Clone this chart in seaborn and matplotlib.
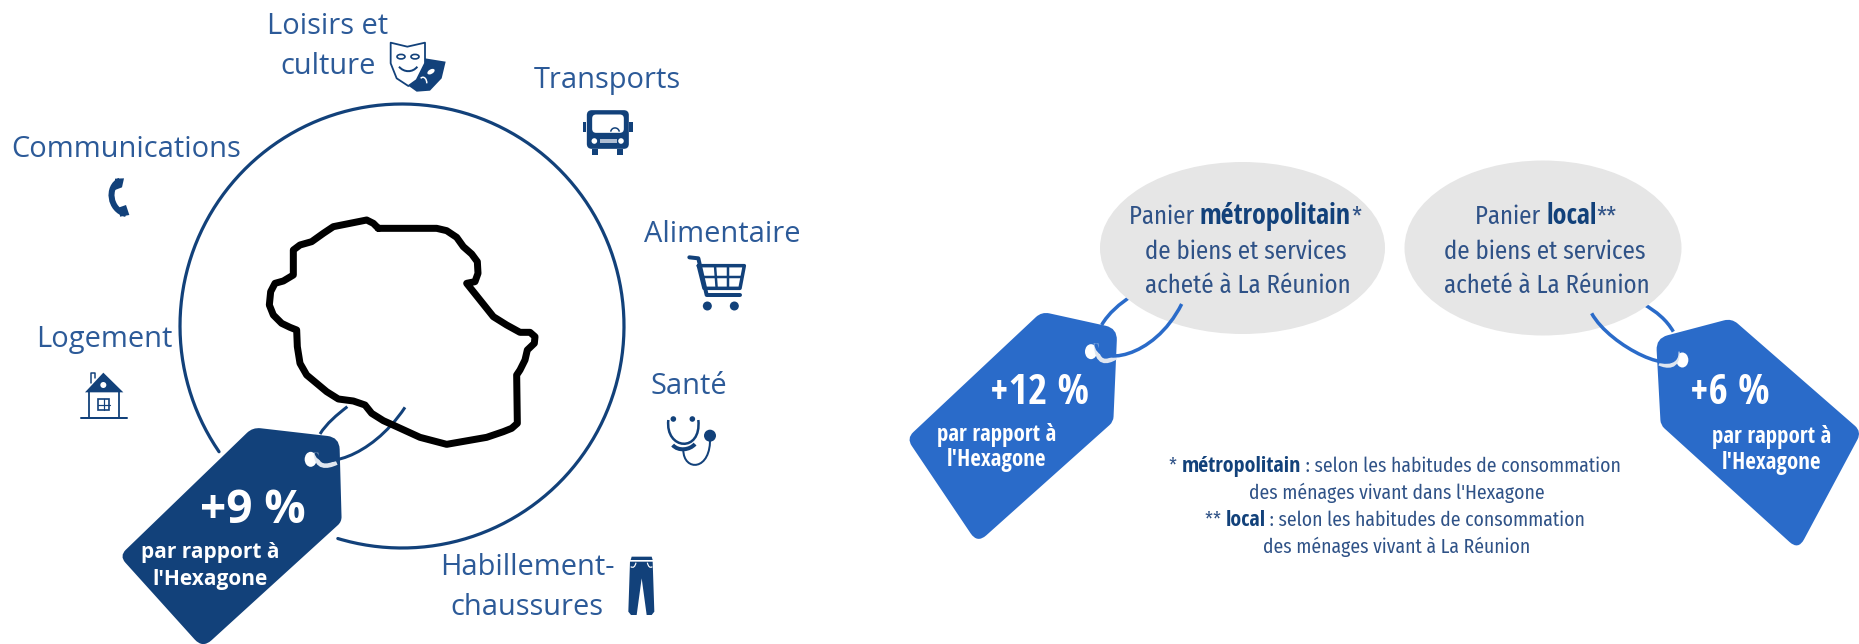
import numpy as np
import pandas as pd
import seaborn as sns
import matplotlib.pyplot as plt
from matplotlib import font_manager
from matplotlib.path import Path
from matplotlib.patches import PathPatch, Ellipse, Circle, Polygon, Rectangle, FancyBboxPatch

# Data
categories = ["Loisirs et\nculture", "Transports", "Alimentaire", "Santé",
              "Habillement-\nchaussures", "Logement", "Communications"]
tag_values = [9, 12, 6]
tag_caption = ["par rapport à", "l'Hexagone"]
bubble_lines = ["de biens et services", "acheté à La Réunion"]

island_x = [415, 590, 620, 650, 670, 695, 712, 714, 705, 680, 720, 760, 800, 840, 870, 885, 883, 862, 855,
            840, 830, 832, 815, 790, 740, 620, 540, 470, 430, 395, 375, 340, 295, 260, 230, 200, 180, 172,
            170, 150, 125, 100, 88, 92, 105, 130, 160, 160, 180, 215, 250, 280, 330, 380, 400, 415]
island_y = [85, 85, 92, 112, 140, 162, 185, 220, 245, 250, 300, 350, 375, 397, 397, 410, 430, 450, 480,
            510, 525, 670, 685, 695, 712, 733, 712, 680, 662, 640, 615, 603, 597, 575, 550, 525, 490, 440,
            390, 382, 370, 345, 315, 275, 250, 243, 225, 150, 135, 125, 100, 80, 70, 60, 70, 85]

DARK = "#12417a"
BLUE = "#2a6bc9"
LABEL = "#2c5a98"
TXT2 = "#2f5287"
GREY = "#e6e6e6"

sns.set_theme(style="white")
available = {f.name for f in font_manager.fontManager.ttflist}
NARROW_REG = next((n for n in ["Noto Sans Condensed", "Fira Sans Condensed", "Encode Sans Condensed",
                               "Liberation Sans Narrow", "Roboto"] if n in available), "Open Sans")
NARROW_BOLD = next((n for n in ["Open Sans Condensed", "Noto Sans Condensed", "Fira Sans Condensed",
                                "Liberation Sans Narrow", "Roboto"] if n in available), "Open Sans")
plt.rcParams['font.family'] = ['Open Sans', 'DejaVu Sans']

fig, ax = plt.subplots(figsize=(18.59, 6.44), dpi=100)
fig.subplots_adjust(0, 0, 1, 1)
PX = 0.72


def z(ox, oy, pts):
    # zoom crop coordinates (3x) to figure pixels
    return [(ox + a / 3, oy + b / 3) for a, b in pts]


def rounded(pts, radii):
    verts, codes = [], []
    n = len(pts)
    for i, p in enumerate(pts):
        p = np.array(p, float)
        a = np.array(pts[i - 1], float)
        b = np.array(pts[(i + 1) % n], float)
        p1 = p + (a - p) / np.linalg.norm(a - p) * radii[i]
        p2 = p + (b - p) / np.linalg.norm(b - p) * radii[i]
        verts += [p1, p, p2]
        codes += [Path.MOVETO if i == 0 else Path.LINETO, Path.CURVE3, Path.CURVE3]
    verts.append(verts[0])
    codes.append(Path.CLOSEPOLY)
    return Path(verts, codes)


def curve(pts, color, lw, zorder):
    # smooth line through a few control points
    codes = [Path.MOVETO] + [Path.CURVE4] * (len(pts) - 1)
    ax.add_patch(PathPatch(Path(pts, codes), fc="none", ec=color, lw=lw * PX, zorder=zorder, capstyle="butt"))


def fill(pts, color, zorder=6, ec="none", lw=0):
    ax.add_patch(Polygon(pts, closed=True, fc=color, ec=ec, lw=lw * PX, zorder=zorder, joinstyle="round"))


def line(pts, color=DARK, lw=2, zorder=6):
    ax.plot([p[0] for p in pts], [p[1] for p in pts], color=color, lw=lw * PX, zorder=zorder,
            solid_capstyle="round", solid_joinstyle="round")


def runs_line(cx, y, runs, size, bold_size, zorder=8):
    # one centred line made of regular and bold pieces
    r = fig.canvas.get_renderer()
    items = []
    for s, bold, color in runs:
        t = ax.text(0, y, s.replace(" ", "\u00a0"), fontsize=bold_size if bold else size,
                    family=[NARROW_BOLD if bold else NARROW_REG, "DejaVu Sans"],
                    fontweight="bold" if bold else "normal",
                    color=color, va="baseline", ha="left", zorder=zorder)
        items.append(t)
    widths = [t.get_window_extent(r).width for t in items]
    x = cx - sum(widths) / 2
    for t, w in zip(items, widths):
        t.set_x(x)
        x += w


# ring with the gap left for the tag
angles = np.radians(np.linspace(145.5, 466.8, 300))
ring = pd.DataFrame({"x": 402 + 222 * np.cos(angles), "y": 326 + 222 * np.sin(angles)})
sns.lineplot(data=ring, x="x", y="y", sort=False, estimator=None, color=DARK, lw=3.2 * PX, ax=ax, zorder=2)

# island
outline = pd.DataFrame({"x": [240 + v / 3 for v in island_x], "y": [200 + v / 3 for v in island_y]})
sns.lineplot(data=outline, x="x", y="y", sort=False, estimator=None, color="black", lw=7 * PX, ax=ax, zorder=5)
ax.lines[-1].set_solid_joinstyle("round")

ax.set_xlim(0, 1859)
ax.set_ylim(644, 0)
ax.axis("off")

# category labels
label_pos = [(328, 34), (607, 88), (722, 242), (689, 394), (527, 575), (104, 347), (126, 157)]
for cat, (cx, by) in zip(categories, label_pos):
    for k, part in enumerate(cat.split("\n")):
        ax.text(cx, by + k * 40, part, fontsize=20.9, color=LABEL, ha="center", va="baseline", zorder=8)

# tags
tags = [
    (z(60, 320, [(578, 322), (838, 352), (845, 605), (428, 985), (178, 708)]), [8, 12, 5, 12, 9], DARK,
     (253, 523), (210, 558), 585),
    (z(890, 150, [(455, 485), (682, 535), (670, 815), (262, 1180), (50, 865)]), [8, 12, 5, 12, 9], BLUE,
     (1040, 404), (997, 441), 466),
    (z(1380, 150, [(1055, 505), (1445, 845), (1255, 1200), (842, 825), (828, 565)]), [8, 9, 12, 5, 12], BLUE,
     (1730, 404), (1772, 443), 469),
]
for i, ((pts, rad, color, big, cap, cap2), val) in enumerate(zip(tags, tag_values)):
    ax.add_patch(PathPatch(rounded(pts, rad), fc=color, ec="none", zorder=3))
    fam = ["Open Sans", "DejaVu Sans"] if i == 0 else [NARROW_BOLD, "DejaVu Sans"]
    ax.text(big[0], big[1], f"+{val} %", color="white", fontsize=33 if i == 0 else 30, fontweight="bold",
            family=fam, ha="center", va="baseline", zorder=8)
    for txt, by in zip(tag_caption, [cap[1], cap2]):
        ax.text(cap[0], by, txt, color="white", fontsize=15 if i == 0 else 16.5, fontweight="bold",
                family=fam, ha="center", va="baseline", zorder=8)

# holes and strings
holes = [z(60, 320, [(752, 418)])[0], z(890, 150, [(603, 605)])[0], z(1380, 150, [(907, 630)])[0]]
for h in holes:
    ax.add_patch(Ellipse(h, 12, 15, fc="white", ec="none", zorder=3.5))
# back strands
curve(z(60, 320, [(780, 342), (800, 310), (830, 285), (862, 260)]), DARK, 3, 2.5)
curve(z(890, 150, [(635, 525), (655, 490), (690, 460), (725, 438)]), BLUE, 3.5, 1)
curve(z(1380, 150, [(880, 545), (860, 510), (830, 485), (790, 462)]), BLUE, 3.5, 1)
# pale edge where the front strand lies on the tag
curve(z(60, 320, [(768, 398), (768, 445), (800, 442), (830, 428)]), "#dfe6f0", 4.5, 3.7)
curve(z(890, 150, [(618, 580), (620, 645), (650, 638), (678, 622)]), "#dfe6f0", 4.5, 3.7)
curve(z(1380, 150, [(892, 605), (895, 655), (860, 650), (838, 640)]), "#dfe6f0", 4.5, 3.7)
# front strands
curve(z(60, 320, [(768, 398), (775, 450), (930, 420), (1035, 262)]), DARK, 3, 4)
curve(z(890, 150, [(618, 580), (620, 650), (790, 630), (875, 462)]), BLUE, 3.5, 4)
curve(z(1380, 150, [(635, 490), (690, 590), (900, 690), (890, 603)]), BLUE, 3.5, 4)

# bubbles
ax.add_patch(Ellipse((1242.5, 248), 285, 172, fc=GREY, ec="none", zorder=2))
ax.add_patch(Ellipse((1543, 248), 277, 175, fc=GREY, ec="none", zorder=2))
BSIZE, BBOLD = 17.9, 20.2
runs_line(1245, 224, [("Panier ", False, TXT2), ("métropolitain", True, DARK), ("*", False, TXT2)], BSIZE, BBOLD)
runs_line(1546, 224, [("Panier ", False, TXT2), ("local", True, DARK), ("**", False, TXT2)], BSIZE, BBOLD)
for cx in (1246, 1545):
    runs_line(cx, 259, [(bubble_lines[0], False, TXT2)], BSIZE, BBOLD)
    runs_line(cx + 2, 293, [(bubble_lines[1], False, TXT2)], BSIZE, BBOLD)

# footnote
FSIZE, FBOLD = 14.1, 15.8
runs_line(1395, 472, [("* ", False, TXT2), ("métropolitain", True, DARK),
                      (" : selon les habitudes de consommation", False, TXT2)], FSIZE, FBOLD)
runs_line(1397, 499, [("des ménages vivant dans l'Hexagone", False, TXT2)], FSIZE, FBOLD)
runs_line(1395, 526, [("** ", False, TXT2), ("local", True, DARK),
                      (" : selon les habitudes de consommation", False, TXT2)], FSIZE, FBOLD)
runs_line(1397, 553, [("des ménages vivant à La Réunion", False, TXT2)], FSIZE, FBOLD)

# icons: masks
fill(z(0, 0, [(1275, 175), (1337, 185), (1325, 235), (1290, 272), (1250, 275), (1215, 250)]), DARK)
fill(z(0, 0, [(1172, 128), (1222, 140), (1275, 128), (1275, 190), (1250, 240), (1225, 258), (1190, 235),
              (1172, 190)]), "white", zorder=6.5, ec=DARK, lw=1.8)
for c in [(1203, 170), (1245, 170)]:
    ax.add_patch(Ellipse(z(0, 0, [c])[0], 8, 4.5, fc="white", ec=DARK, lw=1.2, zorder=7))
curve(z(0, 0, [(1197, 200), (1212, 218), (1238, 218), (1252, 200)]), DARK, 2, 7)
ax.add_patch(Ellipse(z(0, 0, [(1293, 215)])[0], 8, 4.5, angle=-30, fc="white", ec=DARK, lw=0, zorder=7))
curve(z(0, 0, [(1262, 235), (1272, 225), (1282, 240), (1280, 250)]), "white", 1.5, 7)

# phone
curve(z(0, 0, [(360, 542), (320, 560), (328, 630), (378, 642)]), DARK, 6, 6)
fill(z(0, 0, [(345, 536), (372, 535), (366, 562), (345, 570)]), DARK)
fill(z(0, 0, [(358, 622), (378, 615), (388, 645), (360, 650)]), DARK)

# bus
ax.add_patch(FancyBboxPatch((400 + 565 / 3, 335 / 3), 117 / 3, 107 / 3, boxstyle="round,pad=1.5,rounding_size=5",
                            fc=DARK, ec="none", zorder=6))
ax.add_patch(FancyBboxPatch((400 + 578 / 3, 345 / 3), 92 / 3, 52 / 3, boxstyle="round,pad=0.5,rounding_size=4",
                            fc="white", ec="none", zorder=6.5))
for xa, ya, w, h, col in [(548, 365, 10, 30, DARK), (688, 365, 10, 30, DARK), (575, 447, 20, 18, DARK),
                          (650, 447, 20, 18, DARK), (600, 417, 50, 13, "#aebdd3")]:
    ax.add_patch(Rectangle((400 + xa / 3, ya / 3), w / 3, h / 3, fc=col, ec="none", zorder=6.6))
for c in [(583, 423), (663, 423)]:
    ax.add_patch(Circle(z(400, 0, [c])[0], 2.8, fc="white", ec="none", zorder=7))
curve(z(400, 0, [(632, 395), (635, 380), (655, 380), (658, 395)]), DARK, 1.5, 7)

# cart
line(z(400, 0, [(868, 772), (895, 775), (920, 885), (1020, 885)]), lw=4)
line(z(400, 0, [(895, 797), (1033, 797), (1020, 865), (912, 865), (895, 797)]), lw=3.5)
for a, b in [((945, 797), (950, 865)), ((985, 797), (985, 865)), ((905, 830), (1027, 830))]:
    line(z(400, 0, [a, b]), lw=2.5)
for c in [(922, 918), (1003, 918)]:
    ax.add_patch(Circle(z(400, 0, [c])[0], 4.5, fc=DARK, ec="none", zorder=6))

# house
line(z(60, 320, [(62, 295), (200, 295)]), lw=2)
line(z(60, 320, [(87, 215), (87, 295)]), lw=1.8)
line(z(60, 320, [(178, 215), (178, 295)]), lw=1.8)
fill(z(60, 320, [(75, 217), (130, 158), (190, 217)]), DARK)
ax.add_patch(Circle(z(60, 320, [(130, 195)])[0], 3, fc="white", ec="none", zorder=7))
line(z(60, 320, [(92, 190), (92, 160), (106, 160), (106, 175)]), lw=1.5)
ax.add_patch(Rectangle(z(60, 320, [(115, 238)])[0], 11, 11, fc="white", ec=DARK, lw=1.2, zorder=7))
line(z(60, 320, [(132, 238), (132, 270)]), lw=1.2, zorder=7)
line(z(60, 320, [(115, 254), (150, 254)]), lw=1.2, zorder=7)

# stethoscope
curve(z(420, 340, [(745, 240), (735, 330), (845, 340), (835, 240)]), DARK, 2.5, 6)
curve(z(420, 340, [(758, 315), (775, 335), (810, 330), (825, 312)]), DARK, 4, 6)
curve(z(420, 340, [(790, 330), (790, 395), (875, 395), (870, 290)]), DARK, 2, 6)
for c, r in [((760, 237), 2.8), ((817, 237), 2.8), ((870, 287), 6)]:
    ax.add_patch(Circle(z(420, 340, [c])[0], r, fc=DARK, ec="none", zorder=6))

# jeans
fill(z(420, 340, [(635, 650), (695, 650), (698, 660), (632, 660)]), DARK)
fill(z(420, 340, [(630, 665), (698, 665), (703, 815), (695, 825), (680, 825), (665, 715), (650, 825),
                  (633, 825), (625, 815)]), DARK)
curve(z(420, 340, [(632, 680), (640, 685), (645, 680), (648, 668)]), "white", 1.2, 7)
curve(z(420, 340, [(697, 680), (690, 685), (685, 680), (682, 668)]), "white", 1.2, 7)

fig.savefig("out.png", dpi=100, facecolor="white")
